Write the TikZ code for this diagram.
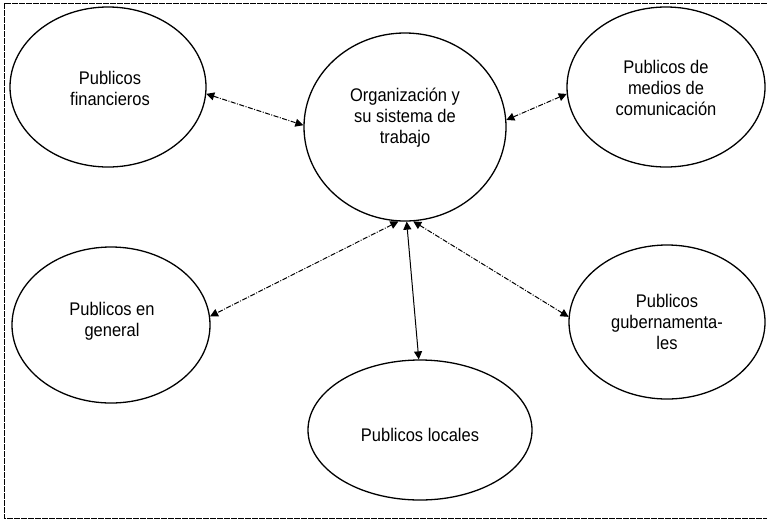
\documentclass[tikz,border=0pt]{standalone}
\usepackage{fontspec}
\setmainfont[FakeStretch=0.9]{Liberation Sans}
\usetikzlibrary{shapes.geometric,arrows.meta}
\begin{document}
\begin{tikzpicture}[x=1pt,y=-1pt,
  pub/.style={draw=black,line width=1.3pt,ellipse,inner sep=0pt},
  lbl/.style={align=center,font=\fontsize{18.3}{21}\selectfont,inner sep=0pt},
  tips/.style={{Triangle[length=8pt,width=8pt]}-{Triangle[length=8pt,width=8pt]}},
  link/.style={draw=black,line width=1pt,dash pattern=on 5pt off 1.5pt on 1pt off 1.5pt,tips},
  solidlink/.style={draw=black,line width=1pt,tips},
  frame/.style={draw=black,line width=0.9pt,dash pattern=on 6pt off 1pt}]
\useasboundingbox (0,0) rectangle (767,520);
\fill[white] (0,0) rectangle (767,520);
% frame (three sides)
\coordinate (fr1) at (767,3);
\coordinate (fr2) at (4,3);
\coordinate (fr3) at (4,518);
\coordinate (fr4) at (767,518);
\draw[frame] (fr1) -- (fr2) -- (fr3) -- (fr4);
% ellipses
\node[pub,minimum width=196pt,minimum height=160pt] (fin) at (108,87) {};
\node[pub,minimum width=202pt,minimum height=188pt] (org) at (405,127) {};
\node[pub,minimum width=198pt,minimum height=160pt] (med) at (666,87) {};
\node[pub,minimum width=198pt,minimum height=156pt] (gen) at (111,325) {};
\node[pub,minimum width=196pt,minimum height=154pt] (gub) at (667,322) {};
\node[pub,minimum width=224pt,minimum height=140pt] (loc) at (420,430) {};
% labels
\node[lbl] (tfin) at (110,88) {Publicos\\financieros};
\node[lbl] (torg) at (405,118) {Organización y\\su sistema de\\trabajo};
\node[lbl] (tmed) at (666,88) {Publicos de\\medios de\\comunicación};
\node[lbl] (tgen) at (112,321) {Publicos en\\general};
\node[lbl] (tgub) at (667,322) {Publicos\\gubernamenta-\\les};
\node[lbl] (tloc) at (420,435) {Publicos locales};
% connectors
\draw[link] (fin.-4) -- (org.179);
\draw[link] (org.4) -- (med.184);
\draw[link] (org.-94) -- (gen.5);
\draw[solidlink] (org.-89) -- (loc.91);
\draw[link] (org.-85) -- (gub.177);
\end{tikzpicture}
\end{document}
